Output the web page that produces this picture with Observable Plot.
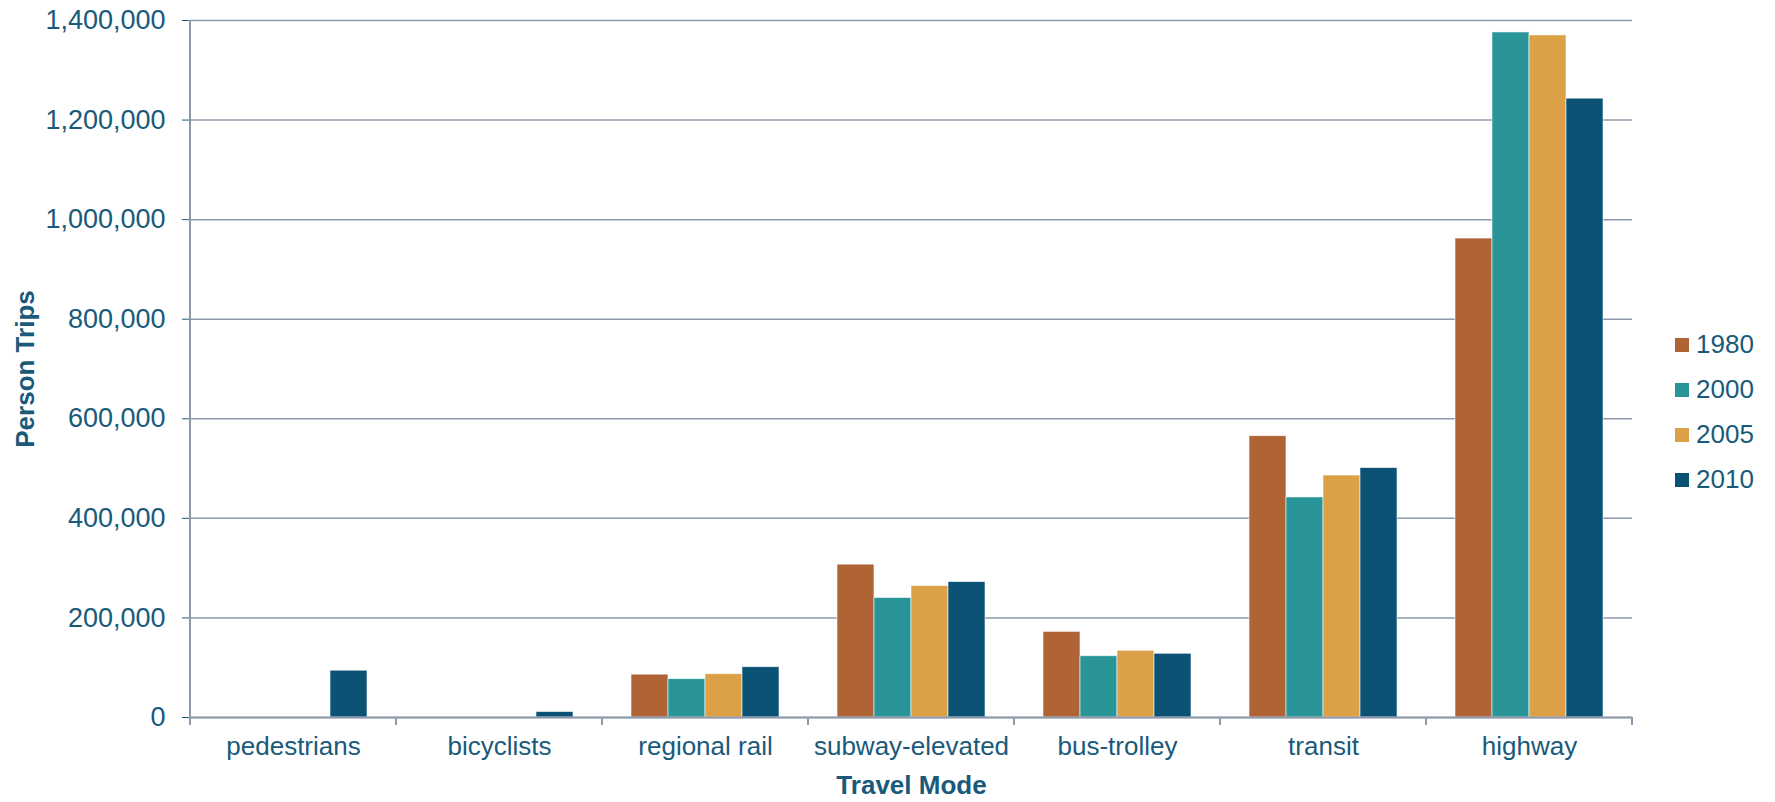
<!DOCTYPE html>
<html><head><meta charset="utf-8">
<script src="https://cdn.jsdelivr.net/npm/d3@7"></script>
<script src="https://cdn.jsdelivr.net/npm/@observablehq/plot@0.6"></script>
<style>
body{margin:0;background:#fff;}
#wrap{position:relative;width:1775px;height:802px;font-family:"Liberation Sans",Arial,sans-serif;}
#wrap svg [aria-label="y-axis tick"]{stroke:#8E9AAB;}
#wrap svg [aria-label="y-axis tick label"]{font-size:27px;}
#wrap svg [aria-label="y-axis label"], #wrap svg [aria-label="fx-axis label"]{font-weight:bold;font-size:26px;}
#legend{position:absolute;left:1675px;top:322px;color:#195A7B;font-size:26px;}
#legend .item{height:45px;display:flex;align-items:center;}
#legend .sw{width:14px;height:14px;margin-right:7px;}
</style></head><body><div id="wrap"><div id="legend"></div></div>
<script>
const categories = ["pedestrians","bicyclists","regional rail","subway-elevated","bus-trolley","transit","highway"];
const years = ["1980","2000","2005","2010"];
const trips1980 = [null, null, 86000, 307000, 172000, 565000, 962000];
const trips2000 = [null, null, 77000, 240000, 123000, 442000, 1376000];
const trips2005 = [null, null, 87000, 264000, 134000, 486000, 1370000];
const trips2010 = [94000, 11000, 101000, 272000, 128000, 501000, 1243000];
const yTicks = [0, 200000, 400000, 600000, 800000, 1000000, 1200000, 1400000];
const colors = ["#B06335", "#2A9599", "#DCA047", "#0B5275"];

const series = [trips1980, trips2000, trips2005, trips2010];
const rows = [];
series.forEach((arr, j) => arr.forEach((v, i) => {
  if (v != null) rows.push({mode: categories[i], year: years[j], trips: v});
}));

const TEXT = "#195A7B", GRID = "#8E9AAB";
const plot = Plot.plot({
  width: 1775, height: 802,
  marginLeft: 189, marginRight: 142, marginTop: 20, marginBottom: 85,
  style: {fontFamily: '"Liberation Sans", Arial, sans-serif', fontSize: "26px", color: TEXT, background: "#fff", overflow: "visible"},
  fx: {domain: categories, padding: 0, label: "Travel Mode", labelAnchor: "center", labelOffset: 76, tickSize: 0, tickPadding: 19},
  x: {domain: years, paddingInner: 0, paddingOuter: 0.78, axis: null},
  y: {domain: [0, 1400000], ticks: yTicks, tickFormat: d3.format(","), tickSize: 8, tickPadding: 17,
      label: "Person Trips", labelAnchor: "center", labelOffset: 175, labelArrow: "none"},
  color: {domain: years, range: colors},
  marks: [
    Plot.gridY(yTicks, {stroke: GRID, strokeOpacity: 1, strokeWidth: 1.5}),
    Plot.barY(rows, {fx: "mode", x: "year", y: "trips", fill: "year", stroke: "#fff", strokeWidth: 0.8, strokeOpacity: 0.7}),
    Plot.ruleY([0], {stroke: GRID, strokeWidth: 2})
  ]
});
document.getElementById("wrap").prepend(plot);

// boundary ticks on the category axis and the vertical value-axis line
const fx = plot.scale("fx"), ys = plot.scale("y");
const edges = categories.map(c => fx.apply(c)).concat([fx.apply(categories[categories.length - 1]) + fx.bandwidth]);
const g = d3.select(plot).append("g").attr("stroke", GRID).attr("stroke-width", 2);
g.selectAll("line.t").data(edges).join("line")
  .attr("x1", d => d).attr("x2", d => d)
  .attr("y1", ys.apply(0)).attr("y2", ys.apply(0) + 8);
g.append("line").attr("x1", edges[0]).attr("x2", edges[0])
  .attr("y1", ys.apply(1400000)).attr("y2", ys.apply(0) + 8);

const legend = d3.select("#legend");
years.forEach((yr, j) => {
  const it = legend.append("div").attr("class", "item");
  it.append("div").attr("class", "sw").style("background", colors[j]);
  it.append("span").text(yr);
});
</script></body></html>
